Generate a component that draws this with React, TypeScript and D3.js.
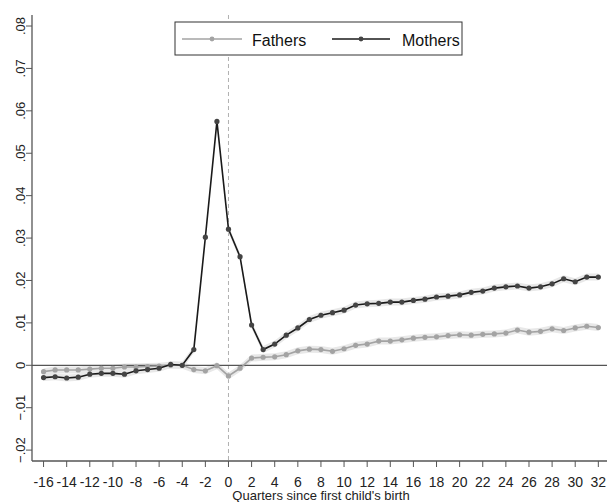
import * as d3 from "d3";
import { useEffect, useRef } from "react";

const quarters = d3.range(-16, 33);

const mothers = [
  -0.0029, -0.0027, -0.003, -0.0028, -0.0021, -0.0019, -0.0019, -0.0021,
  -0.0013, -0.001, -0.0007, 0.0002, 0.0, 0.0037, 0.0302, 0.0575,
  0.0321, 0.0256, 0.0095, 0.0037, 0.005, 0.0071, 0.0088, 0.0108,
  0.0118, 0.0124, 0.013, 0.0142, 0.0145, 0.0146, 0.0149, 0.0149,
  0.0153, 0.0156, 0.0161, 0.0163, 0.0166, 0.0172, 0.0175, 0.0182,
  0.0185, 0.0187, 0.0182, 0.0185, 0.0192, 0.0204, 0.0197, 0.0208, 0.0208,
];

const fathers = [
  -0.0015, -0.0011, -0.0011, -0.0011, -0.0009, -0.0007, -0.0007, -0.0004,
  -0.0004, -0.0003, -0.0002, 0.0, 0.0, -0.001, -0.0013, -0.0001,
  -0.0025, -0.0007, 0.0017, 0.0019, 0.002, 0.0025, 0.0034, 0.0038,
  0.0037, 0.0033, 0.0039, 0.0047, 0.005, 0.0057, 0.0057, 0.006,
  0.0064, 0.0066, 0.0067, 0.007, 0.0072, 0.0071, 0.0073, 0.0074,
  0.0076, 0.0083, 0.0078, 0.008, 0.0086, 0.0082, 0.0088, 0.0092, 0.0089,
];

const yTicks = [-0.02, -0.01, 0, 0.01, 0.02, 0.03, 0.04, 0.05, 0.06, 0.07, 0.08];
const xTicks = d3.range(-16, 33, 2);

const FONT = "'Liberation Sans', Arial, sans-serif";

export default function App() {
  const ref = useRef<SVGSVGElement>(null);

  useEffect(() => {
    document.body.style.margin = "0";
    document.body.style.overflow = "hidden";

    const svg = d3.select(ref.current);
    svg.selectAll("*").remove();

    const width = 607;
    const height = 502;
    const left = 32, right = 607, top = 15, bottom = 461;

    const x = d3.scaleLinear().domain([-17, 32.75]).range([left, right]);
    const y = d3.scaleLinear().domain([-0.02257, 0.0826]).range([bottom, top]);

    svg.attr("width", width).attr("height", height).style("display", "block");

    svg.append("rect").attr("width", width).attr("height", height).attr("fill", "#fff");

    // reference lines
    svg.append("line")
      .attr("x1", x(0)).attr("x2", x(0))
      .attr("y1", top).attr("y2", bottom)
      .attr("stroke", "#b0b0b0")
      .attr("stroke-dasharray", "4,3")
      .attr("stroke-width", 1);

    const series = [
      { name: "Fathers", values: fathers, line: "#a3a3a3", dot: "#a3a3a3" },
      { name: "Mothers", values: mothers, line: "#1a1a1a", dot: "#444" },
    ];

    const line = d3.line<number>()
      .x((_, i) => x(quarters[i]))
      .y(d => y(d));

    // confidence band
    const band = d3.area<number>()
      .x((_, i) => x(quarters[i]))
      .y0(d => y(d) + 3.5)
      .y1(d => y(d) - 3.5);

    series.forEach(s => {
      svg.append("path")
        .attr("d", band(s.values))
        .attr("fill", "#e8e8e8");
    });

    svg.append("line")
      .attr("x1", left).attr("x2", right)
      .attr("y1", y(0)).attr("y2", y(0))
      .attr("stroke", "#555")
      .attr("stroke-width", 1.3);

    series.forEach(s => {
      svg.append("path")
        .attr("d", line(s.values))
        .attr("fill", "none")
        .attr("stroke", s.line)
        .attr("stroke-width", 1.6);
      svg.append("g")
        .selectAll("circle")
        .data(s.values)
        .enter()
        .append("circle")
        .attr("cx", (_, i) => x(quarters[i]))
        .attr("cy", d => y(d))
        .attr("r", 2.6)
        .attr("fill", s.dot);
    });

    // axes
    const axisColor = "#555";
    svg.append("line")
      .attr("x1", left).attr("x2", left).attr("y1", top).attr("y2", bottom)
      .attr("stroke", axisColor).attr("stroke-width", 1.3);
    svg.append("line")
      .attr("x1", left).attr("x2", right).attr("y1", bottom).attr("y2", bottom)
      .attr("stroke", axisColor).attr("stroke-width", 1.3);

    const fmt = (v: number) => {
      if (v === 0) return "0";
      const s = d3.format(".2f")(v);
      return s.replace("0.", ".");
    };

    yTicks.forEach(t => {
      svg.append("line")
        .attr("x1", left - 6).attr("x2", left)
        .attr("y1", y(t)).attr("y2", y(t))
        .attr("stroke", axisColor).attr("stroke-width", 1);
      svg.append("text")
        .attr("transform", `translate(25,${y(t)}) rotate(-90)`)
        .attr("text-anchor", "middle")
        .attr("font-family", FONT)
        .attr("font-size", 13)
        .attr("fill", "#222")
        .text(fmt(t));
    });

    xTicks.forEach(t => {
      svg.append("line")
        .attr("x1", x(t)).attr("x2", x(t))
        .attr("y1", bottom).attr("y2", bottom + 6)
        .attr("stroke", axisColor).attr("stroke-width", 1);
      svg.append("text")
        .attr("x", x(t))
        .attr("y", 486.5)
        .attr("text-anchor", "middle")
        .attr("font-family", FONT)
        .attr("font-size", 14)
        .attr("fill", "#222")
        .text(t);
    });

    svg.append("text")
      .attr("x", 321)
      .attr("y", 500)
      .attr("text-anchor", "middle")
      .attr("font-family", FONT)
      .attr("font-size", 13)
      .attr("fill", "#222")
      .text("Quarters since first child's birth");

    // legend
    const legend = svg.append("g");
    legend.append("rect")
      .attr("x", 175).attr("y", 22)
      .attr("width", 287).attr("height", 33)
      .attr("fill", "#fff")
      .attr("stroke", "#333")
      .attr("stroke-width", 1);

    const items = [
      { s: series[0], x0: 182, x1: 242, tx: 252 },
      { s: series[1], x0: 332, x1: 390, tx: 402 },
    ];
    items.forEach(it => {
      legend.append("line")
        .attr("x1", it.x0).attr("x2", it.x1)
        .attr("y1", 39).attr("y2", 39)
        .attr("stroke", it.s.line).attr("stroke-width", 1.6);
      legend.append("circle")
        .attr("cx", (it.x0 + it.x1) / 2).attr("cy", 39)
        .attr("r", 2.4).attr("fill", it.s.dot);
      legend.append("text")
        .attr("x", it.tx).attr("y", 46)
        .attr("font-family", FONT)
        .attr("font-size", 16)
        .attr("fill", "#111")
        .text(it.s.name);
    });
  }, []);

  return (
    <div>
      <svg ref={ref} />
    </div>
  );
}
